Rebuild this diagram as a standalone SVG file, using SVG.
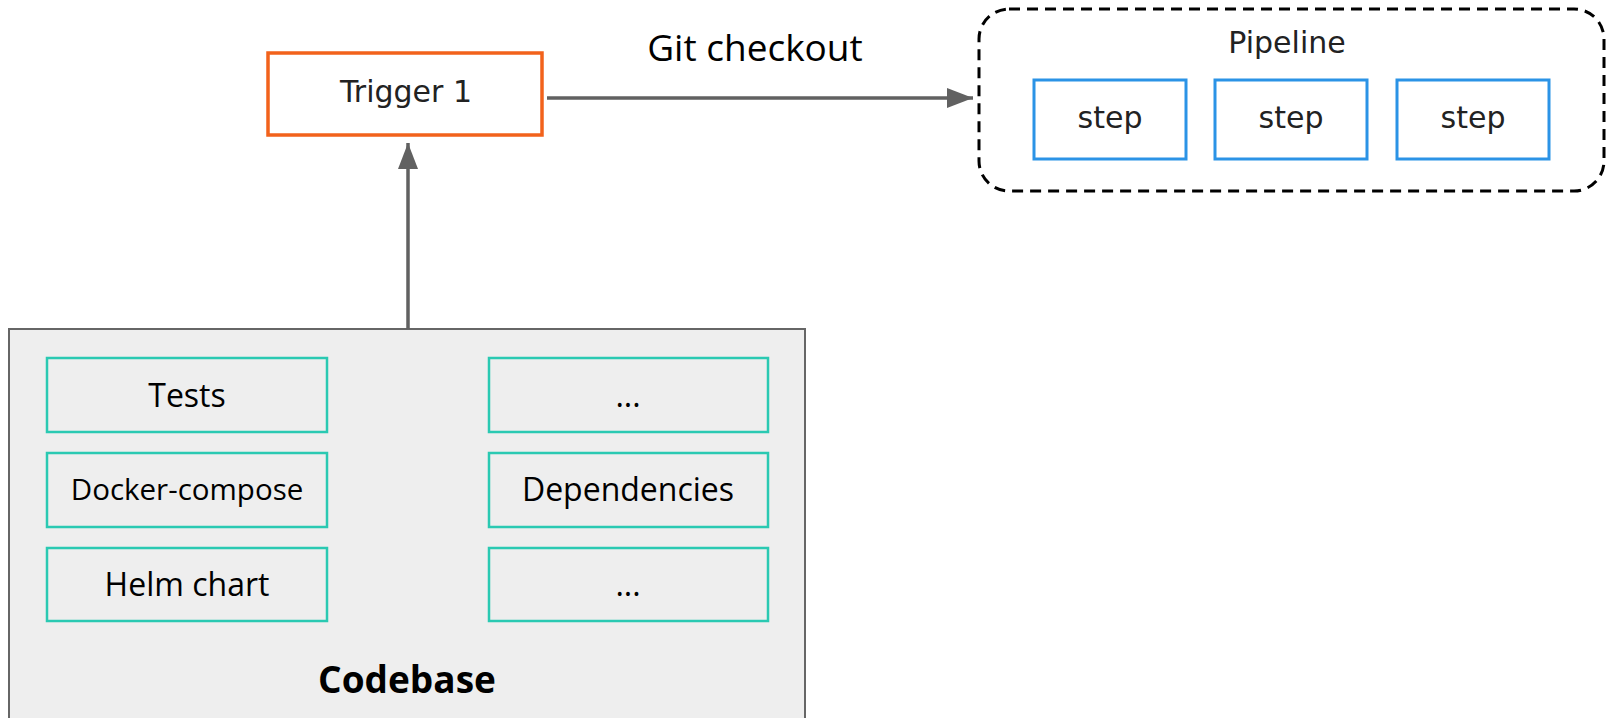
<svg xmlns="http://www.w3.org/2000/svg" width="1608" height="718" viewBox="0 0 1608 718">
  <defs>
    <marker id="head" viewBox="0 0 26 20" refX="26" refY="10" markerWidth="26" markerHeight="20" markerUnits="userSpaceOnUse" orient="auto">
      <path d="M0,0 L26,10 L0,20 z" fill="#616161"/>
    </marker>
  </defs>
  <style>
    .dv { font-family: "DejaVu Sans", sans-serif; fill: #222; text-anchor: middle; }
    .os { font-family: "Open Sans", sans-serif; fill: #000; text-anchor: middle; }
    .item { fill: #eeeeee; stroke: #2ac9b2; stroke-width: 2.5; }
    .step { fill: #ffffff; stroke: #2b93e6; stroke-width: 3; }
    .edge { stroke: #616161; stroke-width: 3.5; fill: none; }
  </style>

  <!-- Trigger -->
  <g id="trigger">
    <rect x="268" y="53" width="274" height="82" fill="#ffffff" stroke="#f2621b" stroke-width="3.5"/>
    <text class="dv" x="406" y="102" font-size="30">Trigger 1</text>
  </g>

  <!-- Pipeline with its steps -->
  <g id="pipeline">
    <rect x="979" y="9" width="625" height="182" rx="30" ry="30" fill="#ffffff" stroke="#000" stroke-width="3" stroke-dasharray="11 7"/>
    <text class="dv" x="1287" y="53" font-size="30">Pipeline</text>
  </g>
  <g id="step1">
    <rect class="step" x="1034" y="80" width="152" height="79"/>
    <text class="dv" x="1110" y="128" font-size="30">step</text>
  </g>
  <g id="step2">
    <rect class="step" x="1215" y="80" width="152" height="79"/>
    <text class="dv" x="1291" y="128" font-size="30">step</text>
  </g>
  <g id="step3">
    <rect class="step" x="1397" y="80" width="152" height="79"/>
    <text class="dv" x="1473" y="128" font-size="30">step</text>
  </g>

  <!-- Codebase container and its contents -->
  <g id="codebase">
    <rect x="9" y="329" width="796" height="400" fill="#eeeeee" stroke="#666666" stroke-width="2"/>
    <text class="os" x="407" y="693" font-size="37" font-weight="bold">Codebase</text>
  </g>
  <g id="tests">
    <rect class="item" x="47" y="358" width="280" height="74"/>
    <text class="os" x="187" y="407" font-size="32">Tests</text>
  </g>
  <g id="docker-compose">
    <rect class="item" x="47" y="453" width="280" height="74"/>
    <text class="os" x="187" y="500" font-size="29.5">Docker-compose</text>
  </g>
  <g id="helm-chart">
    <rect class="item" x="47" y="548" width="280" height="73"/>
    <text class="os" x="187" y="596" font-size="32">Helm chart</text>
  </g>
  <g id="more-1">
    <rect class="item" x="489" y="358" width="279" height="74"/>
    <text class="os" x="628" y="407" font-size="32">...</text>
  </g>
  <g id="dependencies">
    <rect class="item" x="489" y="453" width="279" height="74"/>
    <text class="os" x="628" y="501" font-size="32">Dependencies</text>
  </g>
  <g id="more-2">
    <rect class="item" x="489" y="548" width="279" height="73"/>
    <text class="os" x="628" y="596" font-size="32">...</text>
  </g>

  <!-- Connectors -->
  <g id="connectors">
    <line class="edge" x1="547" y1="98" x2="973" y2="98" marker-end="url(#head)"/>
    <text class="os" x="755" y="61" font-size="37">Git checkout</text>
    <line class="edge" x1="408" y1="329" x2="408" y2="143" marker-end="url(#head)"/>
  </g>
</svg>
